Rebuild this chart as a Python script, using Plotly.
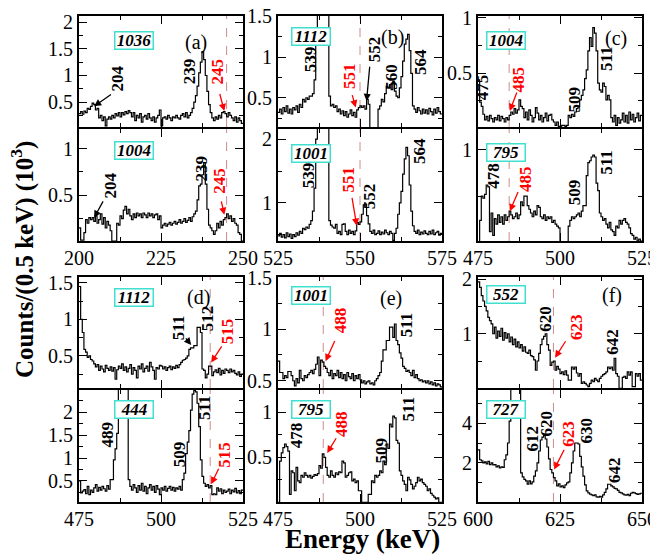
import plotly.graph_objects as go

# ---------------- data: counts (10^3) per 0.5 keV bin ----------------
BIN = 0.5
start_a, start_b, start_c = 200.0, 525.0, 475.0
start_d, start_e, start_f = 475.0, 475.0, 600.0

gate1036_a = [0.28,0.32,0.27,0.33,0.30,0.38,0.36,0.42,0.48,0.45,
              0.35,0.38,0.20,0.25,0.15,0.22,0.05,0.18,0.22,0.18,
              0.25,0.20,0.28,0.24,0.30,0.22,0.30,0.26,0.32,0.28,
              0.34,0.30,0.22,0.30,0.15,0.25,0.20,0.28,0.12,0.22,
              0.25,0.18,0.28,0.20,0.15,0.22,0.12,0.20,0.25,0.35,
              0.05,0.20,0.22,0.18,0.25,0.20,0.15,0.22,0.20,0.25,
              0.20,0.18,0.25,0.28,0.22,0.30,0.20,0.25,0.30,0.38,
              0.50,0.62,0.80,1.05,1.25,1.45,1.30,1.00,0.70,0.45,
              0.30,0.20,0.15,0.22,0.18,0.25,0.20,0.30,0.32,0.28,
              0.22,0.30,0.25,0.20,0.15,0.22,0.12,0.20,0.15,0.10]
gate1004_a = [0.15,0.02,0.02,0.10,0.24,0.20,0.26,0.24,0.26,0.22,
              0.28,0.20,0.24,0.30,0.19,0.26,0.15,0.22,0.18,0.12,
              0.01,0.01,0.01,0.20,0.18,0.28,0.25,0.34,0.38,0.30,
              0.35,0.28,0.24,0.30,0.26,0.31,0.28,0.30,0.26,0.31,
              0.29,0.26,0.31,0.28,0.30,0.26,0.29,0.30,0.24,0.28,
              0.15,0.18,0.20,0.17,0.19,0.21,0.18,0.20,0.22,0.19,
              0.21,0.24,0.20,0.22,0.25,0.21,0.23,0.26,0.22,0.27,
              0.30,0.33,0.45,0.60,0.62,0.72,0.85,0.62,0.35,0.18,
              0.15,0.12,0.08,0.12,0.20,0.15,0.22,0.18,0.24,0.26,
              0.30,0.25,0.28,0.22,0.25,0.20,0.18,0.10,0.08,0.01]
gate1112_b = [0.32,0.36,0.30,0.38,0.33,0.40,0.31,0.36,0.30,0.38,
              0.35,0.40,0.32,0.42,0.38,0.48,0.45,0.50,0.48,0.52,
              0.52,0.55,0.72,1.15,1.90,2.80,3.20,3.00,2.50,1.90,
              1.60,0.52,0.40,0.42,0.38,0.40,0.33,0.36,0.30,0.34,
              0.28,0.33,0.26,0.30,0.35,0.28,0.32,0.26,0.35,0.38,
              0.40,0.38,0.40,0.36,0.48,0.42,0.10,0.10,0.10,0.10,
              0.10,0.36,0.40,0.48,0.45,0.55,0.64,0.62,0.66,0.60,
              0.70,0.58,0.52,0.50,0.62,0.76,0.95,1.16,1.22,1.28,
              1.08,0.80,0.40,0.36,0.32,0.38,0.34,0.30,0.36,0.31,
              0.35,0.30,0.37,0.33,0.29,0.36,0.31,0.38,0.33,0.30]
gate1001_b = [0.48,0.52,0.46,0.50,0.45,0.53,0.47,0.51,0.44,0.50,
              0.47,0.53,0.49,0.55,0.52,0.60,0.58,0.62,0.60,0.66,
              0.72,0.87,1.23,2.00,2.80,3.50,4.00,3.80,3.20,2.50,
              2.30,0.72,0.65,0.62,0.60,0.66,0.52,0.55,0.50,0.66,
              0.67,0.55,0.50,0.57,0.52,0.55,0.50,0.56,0.69,0.66,
              0.70,0.82,0.97,0.98,0.80,0.67,0.55,0.52,0.57,0.50,
              0.52,0.56,0.50,0.54,0.51,0.57,0.53,0.50,0.55,0.52,
              0.41,0.52,0.60,0.82,1.00,1.18,1.45,1.69,1.87,1.74,
              1.28,0.87,0.64,0.55,0.52,0.57,0.50,0.54,0.51,0.56,
              0.52,0.50,0.55,0.51,0.57,0.50,0.53,0.55,0.49,0.52]
gate1004_c = [0.44,0.24,0.20,0.13,0.08,0.11,0.07,0.12,0.09,0.06,
              0.10,0.08,0.12,0.07,0.11,0.09,0.06,0.10,0.08,0.12,
              0.15,0.13,0.18,0.14,0.17,0.26,0.20,0.18,0.10,0.15,
              0.08,0.17,0.12,0.06,0.10,0.19,0.14,0.08,0.12,0.06,
              0.10,0.14,0.07,0.12,0.13,0.08,0.06,0.03,0.06,0.02,
              0.00,0.03,0.03,0.02,0.03,0.12,0.10,0.13,0.11,0.15,
              0.18,0.20,0.26,0.30,0.35,0.45,0.53,0.70,0.82,0.74,
              0.91,0.86,0.70,0.41,0.35,0.33,0.41,0.38,0.26,0.30,
              0.26,0.10,0.06,0.12,0.03,0.10,0.05,0.08,0.14,0.06,
              0.12,0.05,0.15,0.08,0.13,0.06,0.10,0.14,0.07,0.12]
gate795_c = [0.50,0.62,0.75,0.74,0.76,0.81,0.80,0.56,0.66,0.54,
             0.63,0.60,0.65,0.61,0.64,0.60,0.65,0.62,0.64,0.67,
             0.65,0.63,0.64,0.66,0.63,0.65,0.72,0.70,0.75,0.75,
             0.70,0.68,0.66,0.64,0.67,0.65,0.70,0.69,0.64,0.63,
             0.65,0.62,0.64,0.63,0.64,0.61,0.62,0.60,0.59,0.58,
             0.45,0.45,0.45,0.45,0.45,0.59,0.62,0.64,0.63,0.64,
             0.65,0.66,0.64,0.67,0.70,0.70,0.86,0.93,0.94,0.96,
             0.97,0.96,0.82,0.78,0.66,0.64,0.62,0.63,0.60,0.58,
             0.61,0.57,0.56,0.54,0.59,0.58,0.62,0.60,0.62,0.63,
             0.61,0.60,0.58,0.55,0.54,0.52,0.53,0.51,0.52,0.51]
gate1112_d = [1.45,1.00,0.82,0.59,0.55,0.48,0.50,0.45,0.43,0.39,
              0.35,0.38,0.30,0.36,0.32,0.28,0.37,0.33,0.30,0.35,
              0.29,0.34,0.18,0.31,0.36,0.33,0.39,0.30,0.35,0.28,
              0.33,0.38,0.25,0.34,0.30,0.20,0.36,0.32,0.39,0.28,
              0.33,0.36,0.29,0.41,0.35,0.30,0.18,0.34,0.32,0.37,
              0.36,0.32,0.35,0.30,0.34,0.36,0.31,0.35,0.33,0.37,
              0.34,0.38,0.41,0.44,0.45,0.47,0.50,0.59,0.61,0.61,
              0.64,0.64,0.89,0.89,0.82,0.32,0.30,0.20,0.25,0.36,
              0.36,0.23,0.28,0.31,0.27,0.33,0.24,0.30,0.26,0.32,
              0.30,0.27,0.32,0.28,0.30,0.26,0.24,0.28,0.22,0.25]
gate444_d = [0.50,0.24,0.28,0.31,0.22,0.38,0.20,0.30,0.25,0.35,
             0.42,0.28,0.36,0.30,0.38,0.33,0.28,0.40,0.32,0.53,
             0.53,0.96,1.20,1.54,2.80,3.50,4.00,3.80,3.20,2.80,
             0.53,0.38,0.30,0.42,0.35,0.25,0.40,0.30,0.45,0.28,
             0.38,0.22,0.35,0.42,0.30,0.38,0.25,0.40,0.32,0.20,
             0.35,0.30,0.38,0.28,0.34,0.38,0.30,0.36,0.28,0.35,
             0.32,0.38,0.30,0.53,0.67,1.10,1.35,1.60,2.05,2.40,
             2.48,2.45,2.20,1.69,0.96,0.60,0.45,0.38,0.42,0.35,
             0.40,0.20,0.22,0.20,0.35,0.28,0.33,0.22,0.30,0.25,
             0.28,0.32,0.22,0.30,0.26,0.34,0.24,0.29,0.22,0.30]
gate1001_e = [0.69,0.58,0.58,0.52,0.55,0.53,0.59,0.59,0.55,0.50,
              0.45,0.52,0.48,0.60,0.52,0.50,0.55,0.53,0.56,0.58,
              0.60,0.57,0.61,0.66,0.73,0.55,0.70,0.68,0.64,0.62,
              0.58,0.55,0.60,0.52,0.57,0.55,0.60,0.53,0.58,0.52,
              0.56,0.50,0.58,0.54,0.52,0.57,0.50,0.55,0.52,0.56,
              0.51,0.48,0.50,0.47,0.49,0.50,0.47,0.48,0.46,0.50,
              0.52,0.55,0.58,0.69,0.80,0.80,0.89,0.89,1.02,1.02,
              0.92,1.05,0.89,0.85,0.77,0.72,0.64,0.62,0.59,0.60,
              0.58,0.55,0.60,0.53,0.56,0.52,0.50,0.51,0.49,0.50,
              0.48,0.50,0.47,0.49,0.46,0.48,0.45,0.47,0.46,0.44]
gate795_e = [0.00,0.46,0.55,0.61,0.65,0.62,0.57,0.09,0.35,0.33,
             0.13,0.39,0.24,0.22,0.30,0.28,0.33,0.30,0.28,0.30,
             0.27,0.29,0.31,0.30,0.32,0.41,0.38,0.54,0.50,0.39,
             0.30,0.28,0.35,0.30,0.28,0.33,0.31,0.34,0.33,0.46,
             0.44,0.28,0.30,0.33,0.34,0.24,0.26,0.22,0.24,0.13,
             0.13,0.00,0.00,0.00,0.00,0.09,0.09,0.24,0.22,0.30,
             0.28,0.30,0.35,0.33,0.46,0.42,0.65,0.60,0.87,0.84,
             0.96,0.94,0.69,0.66,0.35,0.30,0.24,0.20,0.13,0.28,
             0.25,0.20,0.15,0.18,0.22,0.28,0.24,0.26,0.22,0.20,
             0.18,0.13,0.15,0.10,0.08,0.06,0.04,0.05,0.00,0.00]
gate552_f = [1.95,1.85,1.70,1.60,1.50,1.42,1.30,1.24,1.18,1.00,
             1.12,0.92,1.05,0.95,1.10,0.88,1.02,0.92,1.00,0.85,
             0.94,0.80,0.90,0.76,0.85,0.74,0.80,0.68,0.76,0.66,
             0.64,0.70,0.60,0.58,0.52,0.33,0.50,0.64,0.80,0.90,
             0.95,1.00,0.80,0.70,0.42,0.48,0.50,0.33,0.40,0.35,
             0.27,0.30,0.25,0.32,0.24,0.15,0.15,0.39,0.35,0.39,
             0.28,0.22,0.27,0.09,0.12,0.09,0.06,0.03,0.09,0.15,
             0.12,0.18,0.15,0.12,0.18,0.22,0.25,0.27,0.30,0.39,
             0.36,0.39,0.33,0.55,0.27,0.22,0.00,0.00,0.20,0.22,
             0.18,0.30,0.24,0.30,0.03,0.03,0.27,0.22,0.27,0.15]
gate727_f = [2.66,2.16,2.10,2.00,2.05,1.95,2.08,1.92,2.00,1.90,
             1.92,1.80,1.85,1.75,1.80,1.78,2.16,2.40,3.00,4.10,
             6.20,7.00,7.60,7.40,6.60,5.90,1.50,1.30,1.18,1.10,
             0.93,1.10,0.95,1.05,1.34,1.60,2.00,2.60,3.15,3.30,
             3.40,3.20,2.80,2.20,1.67,1.50,1.26,1.10,0.85,0.95,
             0.80,0.85,0.76,0.90,1.00,1.05,1.50,2.00,2.60,3.00,
             3.00,2.95,2.33,1.80,1.34,0.90,0.60,0.50,0.44,0.40,
             0.36,0.40,0.30,0.28,0.32,0.28,0.40,0.52,0.70,0.93,
             0.93,0.85,0.80,0.72,0.70,0.62,0.52,0.50,0.45,0.40,
             0.38,0.42,0.36,0.48,0.52,0.50,0.46,0.42,0.45,0.48]

# ---------------- layout geometry (pixels of the page) ----------------
PAGE_W, PAGE_H = 658, 556
OFF = 8                      # default body margin of the html page
W, H = PAGE_W - OFF, PAGE_H - OFF
LW = 2                       # frame line width (drawn outside the plot area)
COLS = [(78, 244), (277, 443), (477, 643)]
ROWS = [(15, 128), (128, 242), (276, 389), (389, 503)]


def fx(px):
    return (px - OFF) / W


def fy(py):
    return 1 - (py - OFF) / H


BLACK = "black"
RED = "red"
TURQ = "#40E0D0"
DASHC = "rgb(205,140,140)"
FONT = "Times New Roman, Liberation Serif, serif"

panels = [
    # row 0
    dict(vals=gate1036_a, e0=start_a, col=0, row=0, yr=[0.03, 2.12], dt=0.5, mdt=0.25,
         gate=("1036", 216.9, 1.66), letter=("(a)", 235.8, 1.63), dash=245,
         labels=[("204", 211.7, 0.95, BLACK), ("239", 233.7, 1.07, BLACK), ("245", 242.3, 1.07, RED)],
         arrows=[(204.6, 0.42, 210.2, 0.66, BLACK), (244.3, 0.33, 242.8, 0.68, RED)]),
    dict(vals=gate1112_b, e0=start_b, col=1, row=0, yr=[0.14, 1.505], dt=0.5, mdt=0.25,
         gate=("1112", 535.2, 1.25), letter=("(b)", 560.0, 1.24), dash=550,
         labels=[("539", 534.9, 0.98, BLACK), ("551", 546.8, 0.76, RED), ("552", 554.7, 1.10, BLACK),
                 ("560", 559.5, 0.76, BLACK), ("564", 568.6, 0.94, BLACK)],
         arrows=[(548.7, 0.38, 547.5, 0.55, RED), (552.0, 0.46, 553.0, 0.90, BLACK)]),
    dict(vals=gate1004_c, e0=start_c, col=2, row=0, yr=[0.015, 1.015], dt=0.5, mdt=0.25,
         gate=("1004", 483.4, 0.79), letter=("(c)", 517.1, 0.81), dash=484.5,
         labels=[("475", 476.4, 0.37, BLACK), ("485", 487.4, 0.44, RED), ("509", 504.5, 0.26, BLACK),
                 ("511", 514.1, 0.63, BLACK)],
         arrows=[(484.7, 0.16, 487.0, 0.34, RED)]),
    # row 1
    dict(vals=gate1004_a, e0=start_a, col=0, row=1, yr=[0.01, 1.21], dt=0.5, mdt=0.25,
         gate=("1004", 216.9, 0.98), letter=None, dash=245,
         labels=[("204", 209.6, 0.61, BLACK), ("239", 237.3, 0.79, BLACK), ("245", 242.8, 0.66, RED)],
         arrows=[(204.6, 0.26, 207.6, 0.45, BLACK), (244.3, 0.29, 243.3, 0.45, RED)]),
    dict(vals=gate1001_b, e0=start_b, col=1, row=1, yr=[0.4, 2.16], dt=1, mdt=0.5,
         gate=("1001", 535.2, 1.77), letter=None, dash=550,
         labels=[("539", 534.4, 1.43, BLACK), ("551", 546.5, 1.36, RED), ("552", 553.0, 1.10, BLACK),
                 ("564", 568.1, 1.82, BLACK)],
         arrows=[(549.0, 0.64, 547.5, 1.10, RED)]),
    dict(vals=gate795_c, e0=start_c, col=2, row=1, yr=[0.51, 1.11], dt=0.5, mdt=0.25,
         gate=("795", 483.4, 0.985), letter=None, dash=484.5,
         labels=[("478", 479.9, 0.86, BLACK), ("485", 489.5, 0.84, RED), ("509", 504.5, 0.77, BLACK),
                 ("511", 514.1, 0.93, BLACK)],
         arrows=[(484.7, 0.67, 487.4, 0.78, RED)]),
    # row 2
    dict(vals=gate1112_d, e0=start_d, col=0, row=2, yr=[0.06, 1.58], dt=0.5, mdt=0.25,
         gate=("1112", 491.9, 1.30), letter=("(d)", 511.4, 1.30), dash=515,
         labels=[("511", 505.2, 0.88, BLACK), ("512", 514.2, 1.01, BLACK), ("515", 520.3, 0.83, RED)],
         arrows=[(509.2, 0.65, 507.2, 0.76, BLACK), (515.3, 0.41, 518.8, 0.65, RED)]),
    dict(vals=gate1001_e, e0=start_e, col=1, row=2, yr=[0.43, 1.505], dt=0.5, mdt=0.25,
         gate=("1001", 485.2, 1.33), letter=("(e)", 509.6, 1.30), dash=488.8,
         labels=[("488", 494.3, 1.09, RED), ("511", 514.1, 1.04, BLACK)],
         arrows=[(489.5, 0.69, 492.5, 0.90, RED)]),
    dict(vals=gate552_f, e0=start_f, col=2, row=2, yr=[0.005, 2.04], dt=1, mdt=0.5,
         gate=("552", 608.4, 1.72), letter=("(f)", 640.7, 1.70), dash=623,
         labels=[("620", 620.5, 1.28, BLACK), ("623", 630.0, 1.13, RED), ("642", 641.0, 0.86, BLACK)],
         arrows=[(623.5, 0.56, 627.0, 0.89, RED)]),
    # row 3
    dict(vals=gate444_d, e0=start_d, col=0, row=3, yr=[0.04, 2.49], dt=0.5, mdt=0.25,
         gate=("444", 491.9, 2.06), letter=None, dash=515,
         labels=[("489", 483.6, 1.52, BLACK), ("509", 505.7, 1.08, BLACK), ("511", 513.3, 2.11, BLACK),
                 ("515", 519.3, 1.08, RED)],
         arrows=[(515.3, 0.43, 517.8, 0.80, RED)]),
    dict(vals=gate795_e, e0=start_e, col=1, row=3, yr=[0.005, 1.25], dt=0.5, mdt=0.25,
         gate=("795", 485.2, 1.03), letter=None, dash=488.8,
         labels=[("478", 480.9, 0.75, BLACK), ("488", 494.3, 0.875, RED), ("509", 506.5, 0.58, BLACK),
                 ("511", 514.8, 1.04, BLACK)],
         arrows=[(490.0, 0.55, 493.0, 0.73, RED)]),
    dict(vals=gate727_f, e0=start_f, col=2, row=3, yr=[0.04, 5.66], dt=2, mdt=1,
         gate=("727", 608.4, 4.67), letter=None, dash=623,
         labels=[("612", 616.5, 3.23, BLACK), ("620", 621.0, 3.97, BLACK), ("623", 627.5, 3.48, RED),
                 ("630", 633.0, 3.64, BLACK), ("642", 641.6, 1.67, BLACK)],
         arrows=[(623.2, 1.67, 626.5, 2.74, RED)]),
]

fig = go.Figure()
layout = dict(width=W, height=H, margin=dict(l=0, r=0, t=0, b=0, autoexpand=False),
              paper_bgcolor="white", plot_bgcolor="white", showlegend=False,
              template="none")
annotations = []
shapes = []
half = LW / 2

for k, p in enumerate(panels, start=1):
    sx = "" if k == 1 else str(k)
    xref, yref = "x" + sx, "y" + sx
    n = len(p["vals"])
    xs = [p["e0"] + BIN * i for i in range(n + 1)]
    ys = list(p["vals"]) + [p["vals"][-1]]
    fig.add_trace(go.Scatter(x=xs, y=ys, mode="lines", line=dict(color=BLACK, width=1.2, shape="hv"),
                             xaxis=xref, yaxis=yref, hoverinfo="skip"))
    c0, c1 = COLS[p["col"]]
    r0, r1 = ROWS[p["row"]]
    bottom_row = p["row"] in (1, 3)
    common = dict(automargin=False, showline=True, linecolor=BLACK, linewidth=LW, mirror="ticks",
                  ticks="inside", ticklen=8, tickwidth=1.3, tickcolor=BLACK, tick0=0,
                  showgrid=False, zeroline=False, ticklabeloverflow="allow",
                  tickfont=dict(family=FONT, size=20, color=BLACK))
    layout["xaxis" + sx] = dict(
        domain=[fx(c0 + half), fx(c1 - half)], anchor=yref, range=[p["e0"], p["e0"] + BIN * n],
        dtick=25, showticklabels=bottom_row, ticklabelstandoff=-2,
        minor=dict(ticks="inside", ticklen=4, tickwidth=1.3, tickcolor=BLACK, dtick=12.5, tick0=0),
        **common)
    layout["yaxis" + sx] = dict(
        domain=[fy(r1 - half), fy(r0 + half)], anchor=xref, range=p["yr"], dtick=p["dt"],
        minor=dict(ticks="inside", ticklen=4, tickwidth=1.3, tickcolor=BLACK, dtick=p["mdt"], tick0=0),
        **common)
    # dashed marker line
    shapes.append(dict(type="line", xref=xref, yref=yref + " domain", x0=p["dash"], x1=p["dash"],
                       y0=0, y1=1, line=dict(color=DASHC, width=1, dash="dash"), layer="below"))
    # gate box
    g, gx, gy = p["gate"]
    annotations.append(dict(x=gx, y=gy, xref=xref, yref=yref, text="<b><i>%s</i></b>" % g,
                            showarrow=False, font=dict(family=FONT, size=17, color=BLACK),
                            bordercolor=TURQ, borderwidth=1.5, borderpad=0, bgcolor="white",
                            width=37, height=16))
    if p["letter"]:
        t, lx, ly = p["letter"]
        annotations.append(dict(x=lx, y=ly, xref=xref, yref=yref, text=t, showarrow=False,
                                font=dict(family=FONT, size=20, color=BLACK)))
    for t, lx, ly, col in p["labels"]:
        annotations.append(dict(x=lx, y=ly, xref=xref, yref=yref, text="<b>%s</b>" % t,
                                textangle=-90, showarrow=False,
                                font=dict(family=FONT, size=17, color=col)))
    for hx, hy, tx, ty, col in p["arrows"]:
        annotations.append(dict(x=hx, y=hy, ax=tx, ay=ty, xref=xref, yref=yref, axref=xref, ayref=yref,
                                text="", showarrow=True, arrowhead=2, arrowsize=1.1, arrowwidth=1.3,
                                arrowcolor=col))

annotations.append(dict(x=fx(22), y=fy(260), xref="paper", yref="paper", textangle=-90,
                        xanchor="center", yanchor="middle",
                        text="<b>Counts/(0.5 keV) (10<sup>3</sup>)</b>", showarrow=False,
                        font=dict(family=FONT, size=25, color=BLACK)))
annotations.append(dict(x=fx(362), y=fy(539), xref="paper", yref="paper",
                        xanchor="center", yanchor="middle",
                        text="<b>Energy (keV)</b>", showarrow=False,
                        font=dict(family=FONT, size=27, color=BLACK)))

layout["annotations"] = annotations
layout["shapes"] = shapes
fig.update_layout(**layout)
fig.write_html("out.html")
